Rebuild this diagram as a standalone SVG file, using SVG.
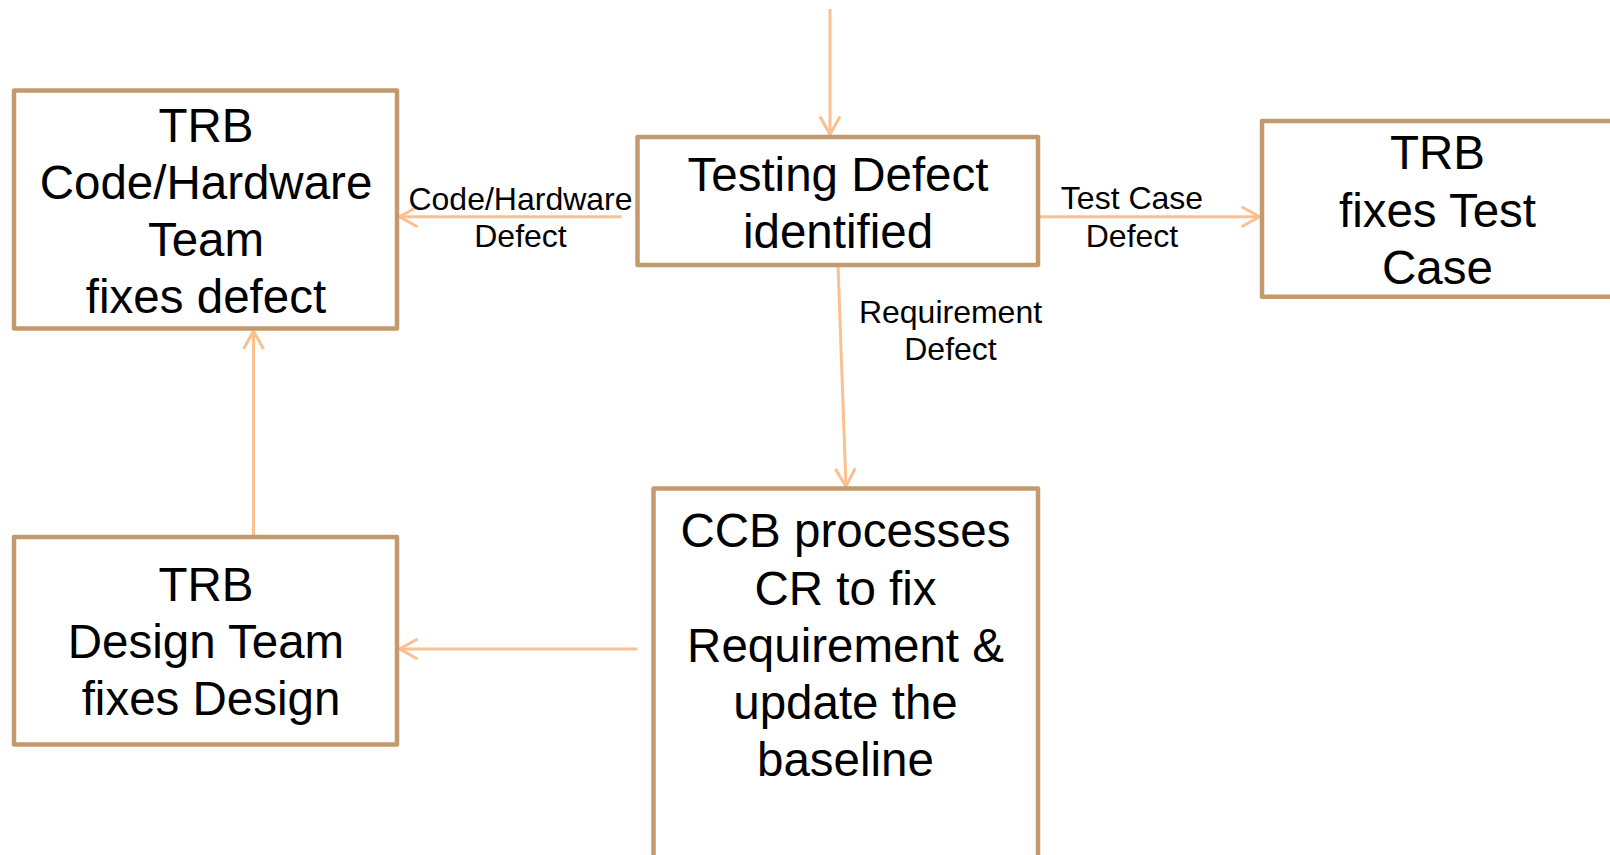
<svg xmlns="http://www.w3.org/2000/svg" width="1610" height="855" viewBox="0 0 1610 855">
<style>
.box{fill:#FFFFFF;stroke:#C49A6C;stroke-width:4.5;stroke-linejoin:round}
.big{font-family:"Liberation Sans",Arial,sans-serif;font-size:47.5px;fill:#000;text-anchor:middle}
.lbl{font-family:"Liberation Sans",Arial,sans-serif;font-size:32px;fill:#000;text-anchor:middle}
.edge{fill:none;stroke:#FAC090;stroke-width:3;marker-end:url(#arr)}
</style>
<defs>
<marker id="arr" markerUnits="userSpaceOnUse" markerWidth="24" markerHeight="24" viewBox="-20 -12 24 24" refX="0" refY="0" orient="auto">
<path d="M-18,-10 L0,0 L-18,10" fill="none" stroke="#FAC090" stroke-width="3" stroke-linejoin="miter"/>
</marker>
</defs>
<rect width="1610" height="855" fill="#FFFFFF"/>
<g id="connectors">
<line class="edge" x1="830" y1="9" x2="830" y2="134.5"/>
<line class="edge" x1="621.5" y1="216.7" x2="399.5" y2="216.7"/>
<line class="edge" x1="1038" y1="216.7" x2="1259.5" y2="216.7"/>
<line class="edge" x1="838" y1="265" x2="846" y2="486.5"/>
<line class="edge" x1="253.5" y1="537" x2="253.5" y2="331"/>
<line class="edge" x1="637.5" y1="649" x2="399.5" y2="649"/>
</g>
<g id="edge-labels">
<text class="lbl" x="520.5" y="209.8">Code/Hardware</text>
<text class="lbl" x="520.5" y="246.5">Defect</text>
<text class="lbl" x="1132" y="208.8">Test Case</text>
<text class="lbl" x="1132" y="246.5">Defect</text>
<text class="lbl" x="950.5" y="323.2">Requirement</text>
<text class="lbl" x="950.5" y="359.8">Defect</text>
</g>
<g id="node-code-hw">
<rect class="box" x="14" y="90.5" width="383" height="238"/>
<text class="big" x="206" y="141.5">TRB</text>
<text class="big" x="206" y="198.5">Code/Hardware</text>
<text class="big" x="206" y="255.5">Team</text>
<text class="big" x="206" y="312.5">fixes defect</text>
</g>
<g id="node-testing">
<rect class="box" x="637.5" y="137" width="400.5" height="128"/>
<text class="big" x="838" y="191">Testing Defect</text>
<text class="big" x="838" y="248">identified</text>
</g>
<g id="node-test-case">
<rect class="box" x="1262" y="121" width="352" height="175.7"/>
<text class="big" x="1437.5" y="169.3">TRB</text>
<text class="big" x="1437.5" y="226.7">fixes Test</text>
<text class="big" x="1437.5" y="284">Case</text>
</g>
<g id="node-design">
<rect class="box" x="14" y="537" width="383" height="207.5"/>
<text class="big" x="206" y="601">TRB</text>
<text class="big" x="206" y="658.3">Design Team</text>
<text class="big" x="211" y="715">fixes Design</text>
</g>
<g id="node-ccb">
<rect class="box" x="653.5" y="488.5" width="384.5" height="400"/>
<text class="big" x="845.5" y="547">CCB processes</text>
<text class="big" x="845.5" y="605">CR to fix</text>
<text class="big" x="845.5" y="662">Requirement &amp;</text>
<text class="big" x="845.5" y="719">update the</text>
<text class="big" x="845.5" y="776">baseline</text>
</g>
</svg>
